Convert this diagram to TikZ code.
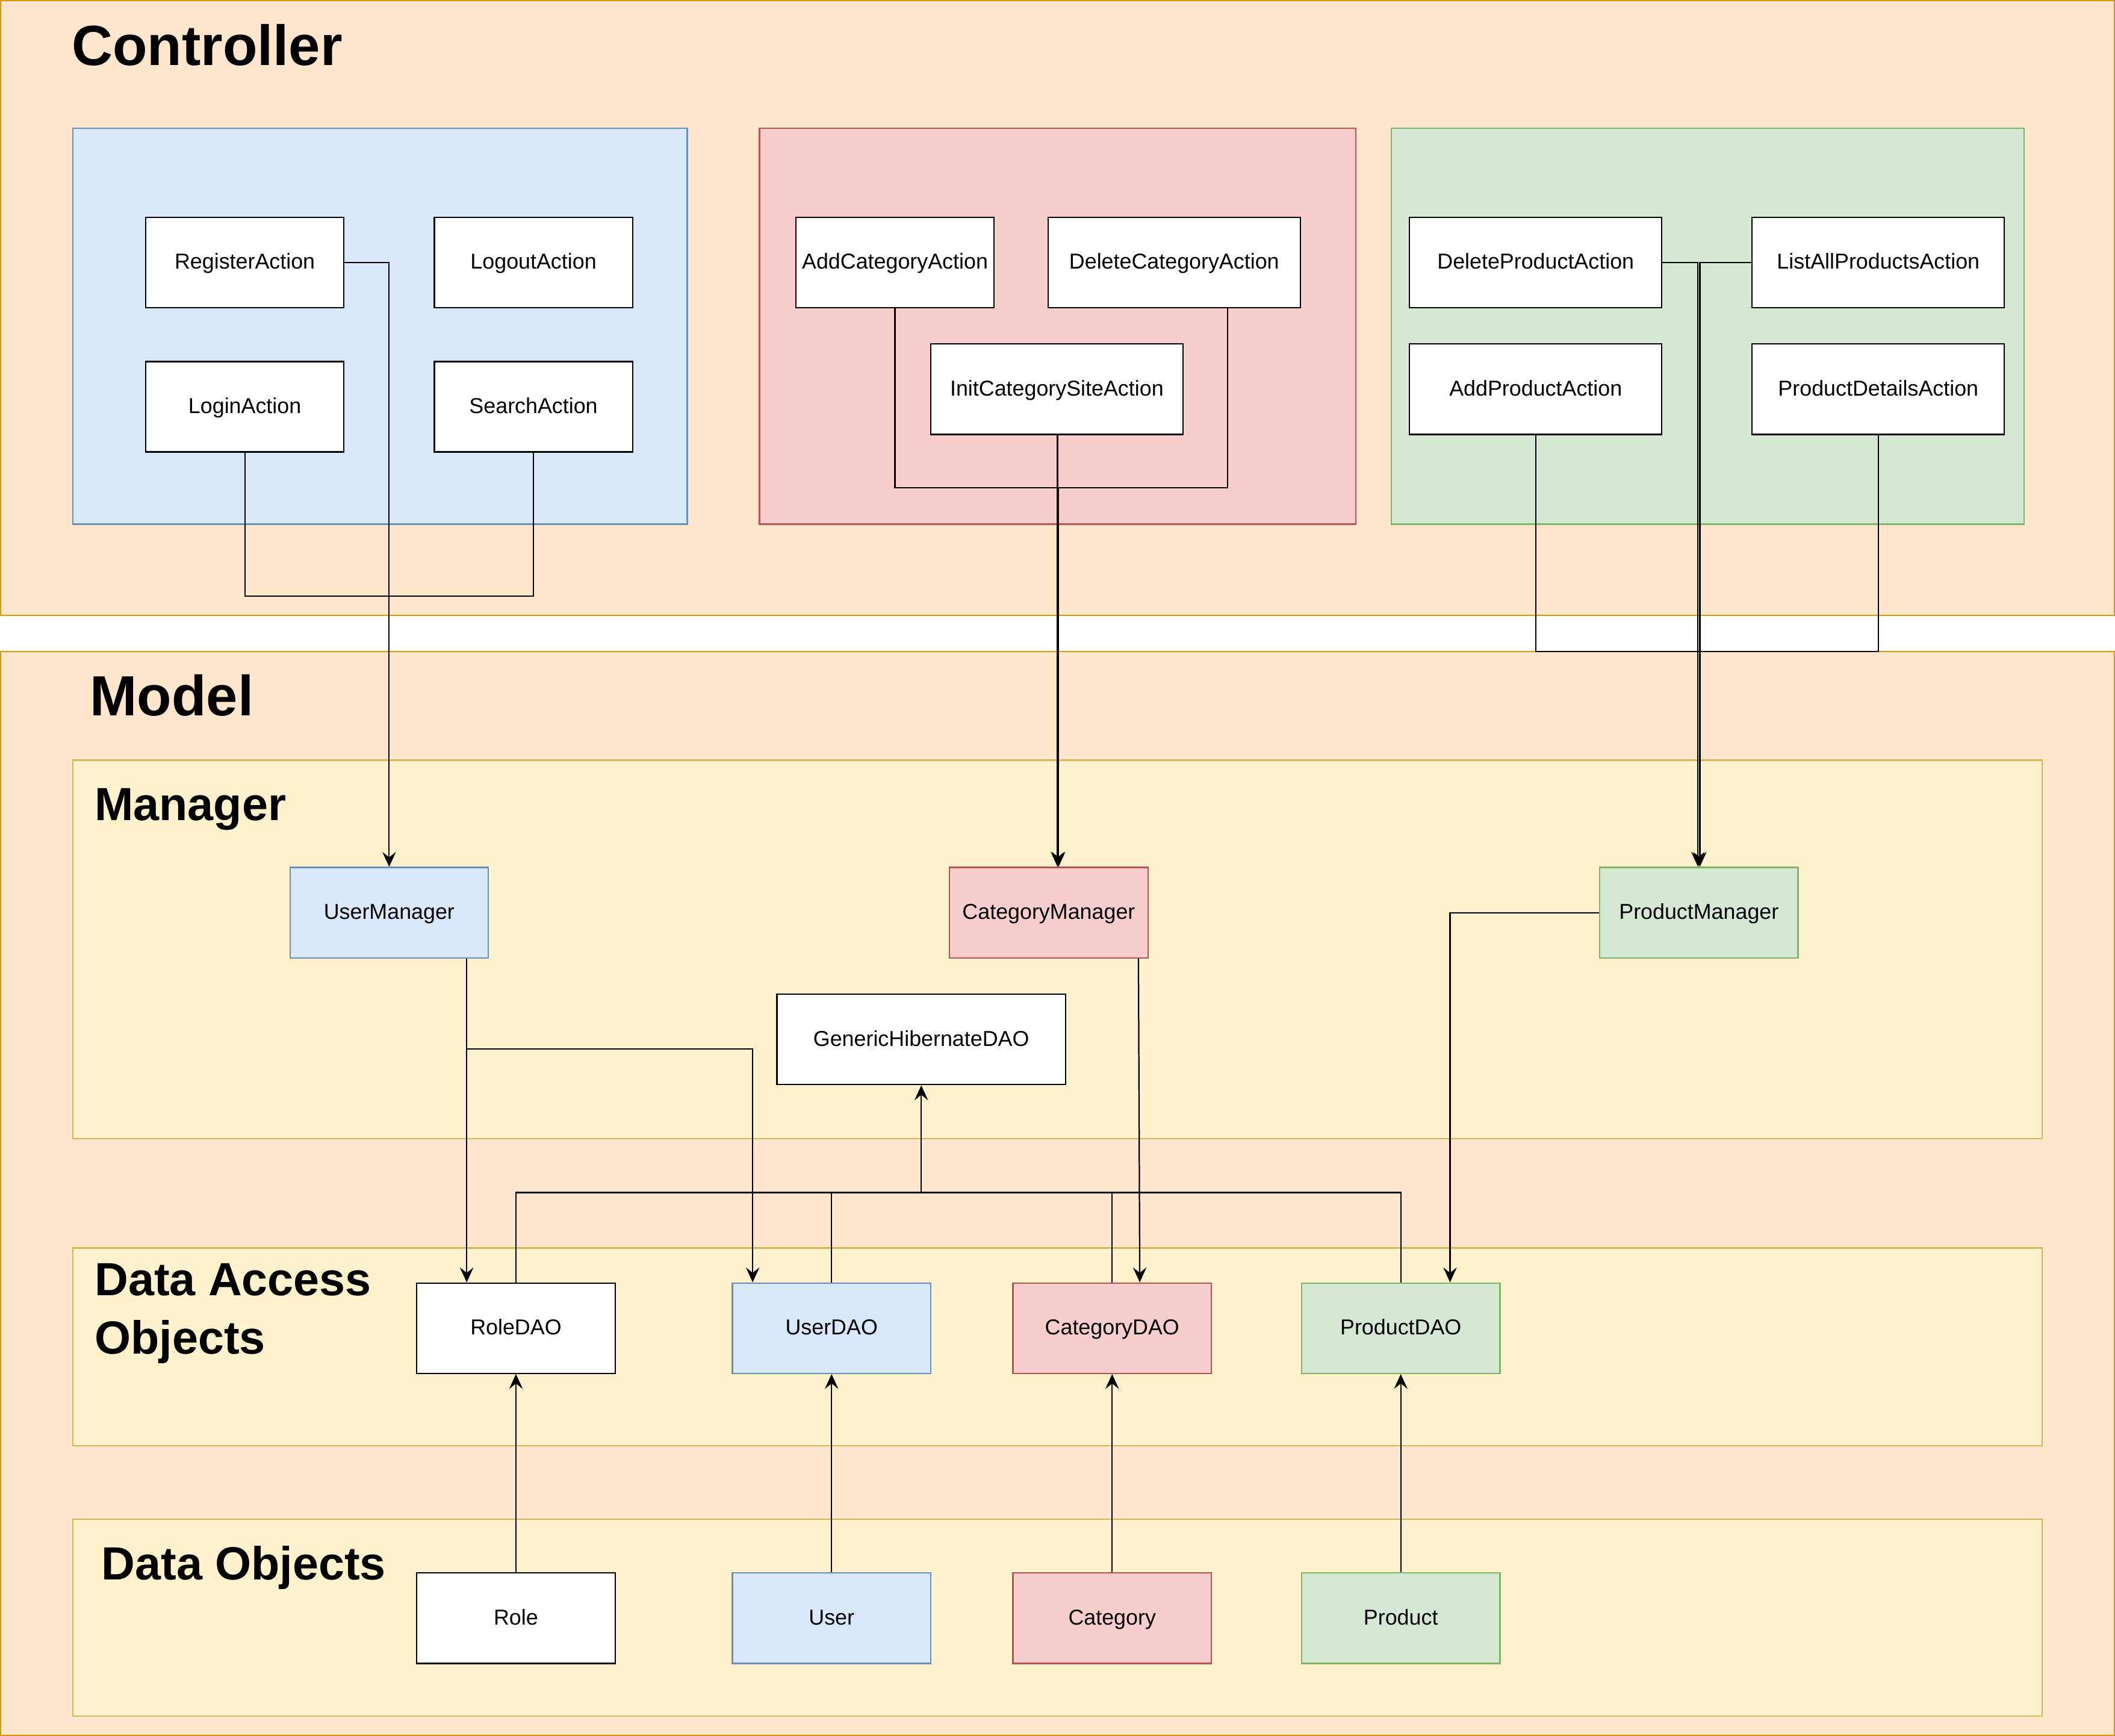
\documentclass[tikz,border=0pt]{standalone}
\usepackage{fontspec}
\setmainfont{Liberation Sans}
\usetikzlibrary{arrows.meta}
\definecolor{orF}{HTML}{FFE6CC}\definecolor{orS}{HTML}{D79B00}
\definecolor{yeF}{HTML}{FFF2CC}\definecolor{yeS}{HTML}{D6B656}
\definecolor{blF}{HTML}{DAE8FC}\definecolor{blS}{HTML}{6C8EBF}
\definecolor{rdF}{HTML}{F8CECC}\definecolor{rdS}{HTML}{B85450}
\definecolor{grF}{HTML}{D5E8D4}\definecolor{grS}{HTML}{82B366}
\newcommand\mybox[7]{\node[#2, minimum width={(#5-#3)*1pt}, minimum height={(#6-#4)*1pt}] (#1) at ({(#3+#5)/2},{(#4+#6)/2}) {#7};}
\tikzset{
  frame/.style={draw=orS, fill=orF, line width=1pt},
  grp/.style={draw=yeS, fill=yeF, line width=1pt},
  gblue/.style={draw=blS, fill=blF, line width=1pt},
  gred/.style={draw=rdS, fill=rdF, line width=1pt},
  ggreen/.style={draw=grS, fill=grF, line width=1pt},
  cls/.style={draw=black, fill=white, line width=1pt, inner sep=0pt, text height=13.8pt, text depth=4pt, font=\fontsize{16}{19}\selectfont},
  clsb/.style={cls, draw=blS, fill=blF},
  clsr/.style={cls, draw=rdS, fill=rdF},
  clsg/.style={cls, draw=grS, fill=grF},
  bigtitle/.style={anchor=base west, inner sep=0pt, font=\fontsize{42}{50}\selectfont\bfseries},
  subtitle/.style={anchor=base west, inner sep=0pt, font=\fontsize{34.5}{43}\selectfont\bfseries},
  conn/.style={draw=black, line width=1pt},
  arr/.style={conn, -{Stealth[length=11pt, width=10pt, inset=4pt]}},
}
\begin{document}
\begin{tikzpicture}[x=1pt, y=-1pt]
\useasboundingbox (0,0) rectangle (1568,1286.8);
% frames
\draw[frame] (0.6,0.6) rectangle (1567.4,456);
\draw[frame] (0.6,482.8) rectangle (1567.4,1286.2);
\node[bigtitle] (tctrl) at (53,48.3) {Controller};
\node[bigtitle] (tmodel) at (66.5,530.3) {Model};
% controller groups
\draw[gblue] (54,95) rectangle (509.5,388.5);
\draw[gred] (563,95) rectangle (1005,388.5);
\draw[ggreen] (1031.5,95) rectangle (1500.5,388.5);
% model groups
\draw[grp] (54,563.5) rectangle (1514,844);
\draw[grp] (54,925) rectangle (1514,1071.5);
\draw[grp] (54,1126) rectangle (1514,1272);
\node[subtitle] (tman) at (70,608.3) {Manager};
\node[subtitle] (tdao) at (70,960.5) {Data Access};
\node[subtitle] (tdao2) at (70,1003.4) {Objects};
\node[subtitle] (tdo) at (75,1171) {Data Objects};
% controller classes
\mybox{reg}{cls}{108}{161}{255}{228}{RegisterAction}
\mybox{logout}{cls}{322}{161}{469}{228}{LogoutAction}
\mybox{login}{cls}{108}{268}{255}{335}{LoginAction}
\mybox{search}{cls}{322}{268}{469}{335}{SearchAction}
\mybox{addc}{cls}{590}{161}{737}{228}{AddCategoryAction}
\mybox{delc}{cls}{777}{161}{964}{228}{DeleteCategoryAction}
\mybox{init}{cls}{690}{255}{877}{322}{InitCategorySiteAction}
\mybox{delp}{cls}{1045}{161}{1232}{228}{DeleteProductAction}
\mybox{lap}{cls}{1299}{161}{1486}{228}{ListAllProductsAction}
\mybox{addp}{cls}{1045}{255}{1232}{322}{AddProductAction}
\mybox{pd}{cls}{1299}{255}{1486}{322}{ProductDetailsAction}
% managers
\mybox{um}{clsb}{215}{643}{362}{710}{UserManager}
\mybox{cm}{clsr}{704}{643}{851}{710}{CategoryManager}
\mybox{pm}{clsg}{1186}{643}{1333}{710}{ProductManager}
\mybox{gdao}{cls}{576}{737}{790}{804}{GenericHibernateDAO}
% DAOs
\mybox{rdao}{cls}{309}{951}{456}{1018}{RoleDAO}
\mybox{udao}{clsb}{543}{951}{690}{1018}{UserDAO}
\mybox{cdao}{clsr}{751}{951}{898}{1018}{CategoryDAO}
\mybox{pdao}{clsg}{965}{951}{1112}{1018}{ProductDAO}
% data objects
\mybox{role}{cls}{309}{1166}{456}{1233}{Role}
\mybox{user}{clsb}{543}{1166}{690}{1233}{User}
\mybox{cat}{clsr}{751}{1166}{898}{1233}{Category}
\mybox{prod}{clsg}{965}{1166}{1112}{1233}{Product}
% controller connectors
\draw[arr] (reg.east) -| (um.north);
\draw[conn] (login.south) -- ++(0,106.5) -| (search.south);
\coordinate (redj) at (784.8,361.5);
\draw[arr] ([xshift=0.5pt]init.south) -- ([xshift=0.5pt]init.south |- cm.north);
\draw[arr] (addc.south) |- (redj) -- (redj |- cm.north);
\draw[conn] ([xshift=39.5pt]delc.south) |- (redj);
\draw[arr] (delp.east) -| ([xshift=-0.7pt]pm.north);
\draw[arr] (lap.west) -| ([xshift=0.7pt]pm.north);
\draw[conn] (addp.south) -- ++(0,160.5) -| (pd.south);
% model connectors
\draw[arr] ([xshift=57.5pt]um.south) -- ([xshift=-36.5pt]rdao.north);
\draw[arr] ([xshift=57.5pt]um.south) -- ++(0,67) -| ([xshift=-58.5pt]udao.north);
\draw[arr] ([xshift=66.5pt]cm.south) -- ([xshift=20.5pt]cdao.north);
\draw[arr] (pm.west) -| ([xshift=36.5pt]pdao.north);
\coordinate (gj) at (683,884);
\draw[conn] (rdao.north) |- (gj);
\draw[conn] (udao.north) |- (gj);
\draw[conn] (cdao.north) |- (gj);
\draw[conn] (pdao.north) |- (gj);
\draw[arr] (gj) -- (gdao.south);
\draw[arr] (role.north) -- (rdao.south);
\draw[arr] (user.north) -- (udao.south);
\draw[arr] (cat.north) -- (cdao.south);
\draw[arr] (prod.north) -- (pdao.south);
\end{tikzpicture}
\end{document}
